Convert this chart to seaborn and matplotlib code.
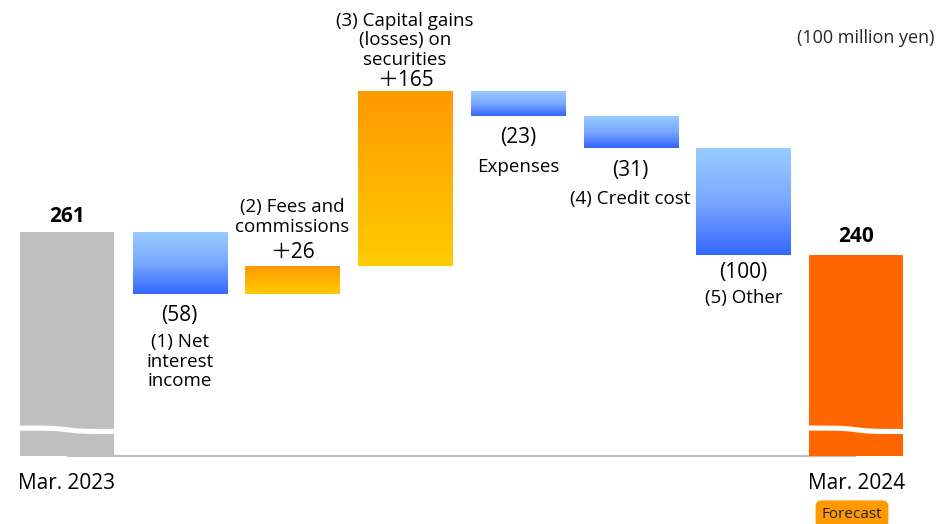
import numpy as np
import pandas as pd
import matplotlib
matplotlib.use("Agg")
import matplotlib.pyplot as plt
import seaborn as sns
from matplotlib.colors import LinearSegmentedColormap

# ---------------- data ----------------
keys = ["start", "nii", "fees", "gains", "expenses", "credit", "other", "end"]
tick_labels = ["Mar. 2023", "Mar. 2024"]
item_labels = ["", "(1) Net\ninterest\nincome", "(2) Fees and\ncommissions",
               "(3) Capital gains\n(losses) on\nsecurities", "Expenses",
               "(4) Credit cost", "(5) Other", ""]
start_value = 261
end_value = 240
changes = [-58, 26, 165, -23, -31, -100]
value_labels = ["261", "(58)", "＋26", "＋165", "(23)", "(31)", "(100)", "240"]
unit_label = "(100 million yen)"
forecast_label = "Forecast"

# ---------------- derived waterfall geometry ----------------
levels = [start_value]
for c in changes:
    levels.append(levels[-1] + c)
bottoms = [0.0]
heights = [float(start_value)]
for i, c in enumerate(changes):
    bottoms.append(float(min(levels[i], levels[i + 1])))
    heights.append(float(abs(c)))
bottoms.append(0.0)
heights.append(float(end_value))
df = pd.DataFrame({"key": keys, "bottom": bottoms, "height": heights})

# ---------------- style ----------------
sns.set_style("white")
plt.rcParams["font.family"] = ["Open Sans", "Noto Sans CJK JP", "DejaVu Sans"]

W, H, DPI = 944, 524, 100
fig = plt.figure(figsize=(W / DPI, H / DPI), dpi=DPI)
ax = fig.add_axes([0, (H - 456) / H, 1, 456 / H])

sns.barplot(data=df, x="key", y="height", order=keys, color="#BFBFBF",
            width=0.834, errorbar=None, ax=ax, zorder=2)
for p, b in zip(ax.patches, df["bottom"]):
    p.set_y(b)
    p.set_edgecolor("none")

YMIN, YMAX = 50, 480
ax.set_xlim(-0.594, 7.78)
ax.set_ylim(YMIN, YMAX)

blue = LinearSegmentedColormap.from_list("b", ["#3366FF", "#7AA8FF", "#99CCFF"])
orange = LinearSegmentedColormap.from_list("o", ["#FFCC00", "#FF9900"])
grad = np.linspace(0, 1, 256).reshape(-1, 1)
for i, p in enumerate(ax.patches):
    if i == 0:
        p.set_facecolor("#BFBFBF")
    elif i == 7:
        p.set_facecolor("#FF6600")
    else:
        cmap = orange if changes[i - 1] > 0 else blue
        x0, y0 = p.get_x(), p.get_y()
        x1, y1 = x0 + p.get_width(), y0 + p.get_height()
        im = ax.imshow(grad, extent=(x0, x1, y0, y1), origin="lower",
                       aspect="auto", cmap=cmap, interpolation="bicubic", zorder=3)
        im.set_clip_path(p)
        p.set_facecolor("none")

# axis cleanup
for s in ax.spines.values():
    s.set_visible(False)
ax.set_yticks([])
ax.set_ylabel("")
ax.set_xlabel("")
ax.hlines(YMIN + 0.3, 0, 7, color="#C0C0C0", lw=1.6, zorder=1, clip_on=False)
ax.set_xticks([0, 7], tick_labels)
ax.tick_params(axis="x", length=0, pad=12, labelsize=15, colors="black")

# broken-axis wave marks on total bars
for idx in (0, 7):
    p = ax.patches[idx]
    x0 = p.get_x() - 0.01
    x1 = x0 + p.get_width() + 0.02
    xs = np.linspace(x0, x1, 200)
    t = (xs - x0) / (x1 - x0)
    s = 0.5 * (1 + np.tanh((t - 0.5) * 7))
    center = 76.8 - 3.2 * s
    ax.fill_between(xs, center - 2.4, center + 2.4, color="white", lw=0, zorder=5)

# value / item labels (offsets in pixels from bar edges)
def lab(x, y, txt, dy, size=14, weight="normal", ls=1.2):
    ax.annotate(txt, (x, y), xytext=(0, dy), textcoords="offset pixels",
                ha="center", va="center", fontsize=size, fontweight=weight,
                linespacing=ls, color="black", zorder=6, annotation_clip=False)

VS, IS = 15, 13.5
tops = [b + h for b, h in zip(bottoms, heights)]
# totals
lab(0, tops[0], value_labels[0], 16, size=VS, weight="bold")
lab(7, tops[7], value_labels[7], 18, size=VS, weight="bold")
# decreases: labels below
for i in (1, 4, 5, 6):
    lab(i, bottoms[i], value_labels[i], -22 if i != 6 else -18, size=VS)
lab(1, bottoms[1], item_labels[1], -68, size=IS, ls=1.1)
lab(4, bottoms[4], item_labels[4], -51, size=IS)
lab(5, bottoms[5], item_labels[5], -51, size=IS)
lab(6, bottoms[6], item_labels[6], -43, size=IS)
# increases: labels above
lab(2, tops[2], value_labels[2], 14, size=VS)
lab(2, tops[2], item_labels[2], 49, size=IS, ls=1.1)
lab(3, tops[3], value_labels[3], 11, size=VS)
lab(3, tops[3], item_labels[3], 51, size=IS, ls=1.1)

# unit label
fig.text(866 / W, 1 - 38 / H, unit_label, ha="center", va="center", fontsize=13)

# forecast tag
fig.text(852 / W, 1 - 514 / H, forecast_label, ha="center", va="center",
         fontsize=11, color="#222222",
         bbox=dict(boxstyle="round,pad=0.4,rounding_size=0.4", fc="#FF9900", ec="none"))

fig.savefig("out.png", dpi=DPI)
